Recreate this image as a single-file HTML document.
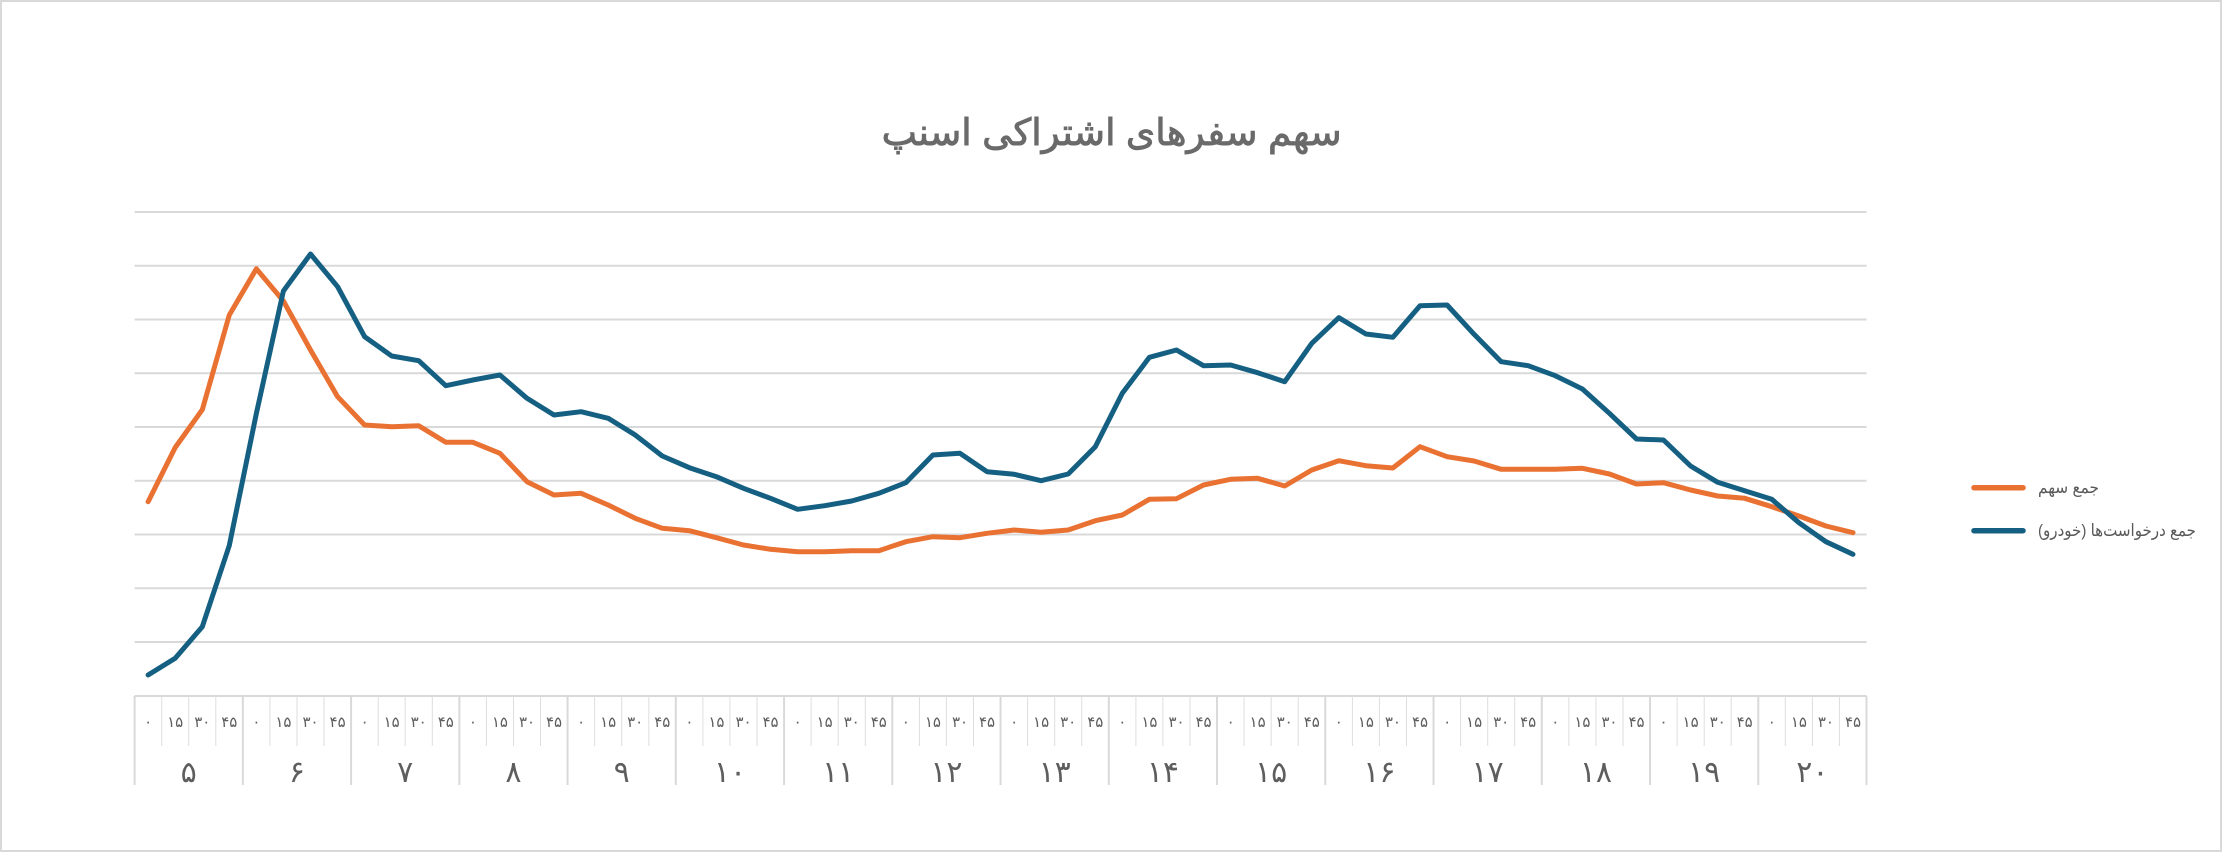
<!DOCTYPE html>
<html>
<head>
<meta charset="utf-8">
<style>
  html, body { margin: 0; padding: 0; background: #ffffff; }
  body { width: 2222px; height: 852px; overflow: hidden; }
  svg { display: block; }
  .ar { font-family: "Liberation Sans", "DejaVu Sans", sans-serif; }
</style>
</head>
<body>
<svg width="2222" height="852" viewBox="0 0 2222 852" xmlns="http://www.w3.org/2000/svg">
  <rect x="1" y="1" width="2220" height="850" fill="#ffffff" stroke="#d9d9d9" stroke-width="2"/>

  <!-- Title -->
  <text class="ar" x="1111.7" y="145" font-size="37" fill="#6a6a6a" stroke="#6a6a6a" stroke-width="0.9" text-anchor="middle" textLength="460" lengthAdjust="spacingAndGlyphs">سهم سفرهای اشتراکی اسنپ</text>

  <!-- Gridlines -->
  <g stroke="#d9d9d9" stroke-width="2">
    <line x1="134.6" y1="212" x2="1866.5" y2="212"/>
    <line x1="134.6" y1="265.75" x2="1866.5" y2="265.75"/>
    <line x1="134.6" y1="319.5" x2="1866.5" y2="319.5"/>
    <line x1="134.6" y1="373.25" x2="1866.5" y2="373.25"/>
    <line x1="134.6" y1="427" x2="1866.5" y2="427"/>
    <line x1="134.6" y1="480.75" x2="1866.5" y2="480.75"/>
    <line x1="134.6" y1="534.5" x2="1866.5" y2="534.5"/>
    <line x1="134.6" y1="588.25" x2="1866.5" y2="588.25"/>
    <line x1="134.6" y1="642" x2="1866.5" y2="642"/>
    <line x1="134.6" y1="696" x2="1866.5" y2="696"/>
  </g>

  <!-- Minor dividers -->
  <g stroke="#dedede" stroke-width="1">
    <line x1="161.7" y1="696" x2="161.7" y2="746"/><line x1="188.7" y1="696" x2="188.7" y2="746"/><line x1="215.8" y1="696" x2="215.8" y2="746"/>
    <line x1="269.9" y1="696" x2="269.9" y2="746"/><line x1="297" y1="696" x2="297" y2="746"/><line x1="324" y1="696" x2="324" y2="746"/>
    <line x1="378.2" y1="696" x2="378.2" y2="746"/><line x1="405.2" y1="696" x2="405.2" y2="746"/><line x1="432.3" y1="696" x2="432.3" y2="746"/>
    <line x1="486.4" y1="696" x2="486.4" y2="746"/><line x1="513.5" y1="696" x2="513.5" y2="746"/><line x1="540.5" y1="696" x2="540.5" y2="746"/>
    <line x1="594.6" y1="696" x2="594.6" y2="746"/><line x1="621.7" y1="696" x2="621.7" y2="746"/><line x1="648.8" y1="696" x2="648.8" y2="746"/>
    <line x1="702.9" y1="696" x2="702.9" y2="746"/><line x1="729.9" y1="696" x2="729.9" y2="746"/><line x1="757" y1="696" x2="757" y2="746"/>
    <line x1="811.1" y1="696" x2="811.1" y2="746"/><line x1="838.2" y1="696" x2="838.2" y2="746"/><line x1="865.3" y1="696" x2="865.3" y2="746"/>
    <line x1="919.4" y1="696" x2="919.4" y2="746"/><line x1="946.4" y1="696" x2="946.4" y2="746"/><line x1="973.5" y1="696" x2="973.5" y2="746"/>
    <line x1="1027.6" y1="696" x2="1027.6" y2="746"/><line x1="1054.7" y1="696" x2="1054.7" y2="746"/><line x1="1081.7" y1="696" x2="1081.7" y2="746"/>
    <line x1="1135.9" y1="696" x2="1135.9" y2="746"/><line x1="1162.9" y1="696" x2="1162.9" y2="746"/><line x1="1190" y1="696" x2="1190" y2="746"/>
    <line x1="1244.1" y1="696" x2="1244.1" y2="746"/><line x1="1271.2" y1="696" x2="1271.2" y2="746"/><line x1="1298.2" y1="696" x2="1298.2" y2="746"/>
    <line x1="1352.4" y1="696" x2="1352.4" y2="746"/><line x1="1379.4" y1="696" x2="1379.4" y2="746"/><line x1="1406.5" y1="696" x2="1406.5" y2="746"/>
    <line x1="1460.6" y1="696" x2="1460.6" y2="746"/><line x1="1487.7" y1="696" x2="1487.7" y2="746"/><line x1="1514.7" y1="696" x2="1514.7" y2="746"/>
    <line x1="1568.8" y1="696" x2="1568.8" y2="746"/><line x1="1595.9" y1="696" x2="1595.9" y2="746"/><line x1="1623" y1="696" x2="1623" y2="746"/>
    <line x1="1677.1" y1="696" x2="1677.1" y2="746"/><line x1="1704.2" y1="696" x2="1704.2" y2="746"/><line x1="1731.2" y1="696" x2="1731.2" y2="746"/>
    <line x1="1785.3" y1="696" x2="1785.3" y2="746"/><line x1="1812.4" y1="696" x2="1812.4" y2="746"/><line x1="1839.4" y1="696" x2="1839.4" y2="746"/>
  </g>

  <!-- Major dividers -->
  <g stroke="#d9d9d9" stroke-width="2">
    <line x1="134.6" y1="696" x2="134.6" y2="785"/>
    <line x1="242.85" y1="696" x2="242.85" y2="785"/>
    <line x1="351.09" y1="696" x2="351.09" y2="785"/>
    <line x1="459.34" y1="696" x2="459.34" y2="785"/>
    <line x1="567.58" y1="696" x2="567.58" y2="785"/>
    <line x1="675.83" y1="696" x2="675.83" y2="785"/>
    <line x1="784.07" y1="696" x2="784.07" y2="785"/>
    <line x1="892.32" y1="696" x2="892.32" y2="785"/>
    <line x1="1000.56" y1="696" x2="1000.56" y2="785"/>
    <line x1="1108.81" y1="696" x2="1108.81" y2="785"/>
    <line x1="1217.05" y1="696" x2="1217.05" y2="785"/>
    <line x1="1325.3" y1="696" x2="1325.3" y2="785"/>
    <line x1="1433.54" y1="696" x2="1433.54" y2="785"/>
    <line x1="1541.79" y1="696" x2="1541.79" y2="785"/>
    <line x1="1650.03" y1="696" x2="1650.03" y2="785"/>
    <line x1="1758.28" y1="696" x2="1758.28" y2="785"/>
    <line x1="1866.5" y1="696" x2="1866.5" y2="785"/>
  </g>

  <!-- Minute labels -->
  <g class="ar" font-size="15" fill="#5e5e5e" text-anchor="middle">
    <text x="148.1" y="727">۰</text><text x="175.2" y="727">۱۵</text><text x="202.3" y="727">۳۰</text><text x="229.3" y="727">۴۵</text>
    <text x="256.4" y="727">۰</text><text x="283.4" y="727">۱۵</text><text x="310.5" y="727">۳۰</text><text x="337.6" y="727">۴۵</text>
    <text x="364.6" y="727">۰</text><text x="391.7" y="727">۱۵</text><text x="418.7" y="727">۳۰</text><text x="445.8" y="727">۴۵</text>
    <text x="472.9" y="727">۰</text><text x="499.9" y="727">۱۵</text><text x="527" y="727">۳۰</text><text x="554" y="727">۴۵</text>
    <text x="581.1" y="727">۰</text><text x="608.2" y="727">۱۵</text><text x="635.2" y="727">۳۰</text><text x="662.3" y="727">۴۵</text>
    <text x="689.4" y="727">۰</text><text x="716.4" y="727">۱۵</text><text x="743.5" y="727">۳۰</text><text x="770.5" y="727">۴۵</text>
    <text x="797.6" y="727">۰</text><text x="824.7" y="727">۱۵</text><text x="851.7" y="727">۳۰</text><text x="878.8" y="727">۴۵</text>
    <text x="905.8" y="727">۰</text><text x="932.9" y="727">۱۵</text><text x="960" y="727">۳۰</text><text x="987" y="727">۴۵</text>
    <text x="1014.1" y="727">۰</text><text x="1041.1" y="727">۱۵</text><text x="1068.2" y="727">۳۰</text><text x="1095.3" y="727">۴۵</text>
    <text x="1122.3" y="727">۰</text><text x="1149.4" y="727">۱۵</text><text x="1176.5" y="727">۳۰</text><text x="1203.5" y="727">۴۵</text>
    <text x="1230.6" y="727">۰</text><text x="1257.6" y="727">۱۵</text><text x="1284.7" y="727">۳۰</text><text x="1311.8" y="727">۴۵</text>
    <text x="1338.8" y="727">۰</text><text x="1365.9" y="727">۱۵</text><text x="1392.9" y="727">۳۰</text><text x="1420" y="727">۴۵</text>
    <text x="1447.1" y="727">۰</text><text x="1474.1" y="727">۱۵</text><text x="1501.2" y="727">۳۰</text><text x="1528.2" y="727">۴۵</text>
    <text x="1555.3" y="727">۰</text><text x="1582.4" y="727">۱۵</text><text x="1609.4" y="727">۳۰</text><text x="1636.5" y="727">۴۵</text>
    <text x="1663.5" y="727">۰</text><text x="1690.6" y="727">۱۵</text><text x="1717.7" y="727">۳۰</text><text x="1744.7" y="727">۴۵</text>
    <text x="1771.8" y="727">۰</text><text x="1798.9" y="727">۱۵</text><text x="1825.9" y="727">۳۰</text><text x="1853" y="727">۴۵</text>
  </g>

  <!-- Hour labels -->
  <g class="ar" font-size="30" fill="#5e5e5e" text-anchor="middle">
    <text x="188.72" y="782">۵</text>
    <text x="296.97" y="782">۶</text>
    <text x="405.21" y="782">۷</text>
    <text x="513.46" y="782">۸</text>
    <text x="621.70" y="782">۹</text>
    <text x="729.95" y="782">۱۰</text>
    <text x="838.19" y="782">۱۱</text>
    <text x="946.44" y="782">۱۲</text>
    <text x="1054.68" y="782">۱۳</text>
    <text x="1162.93" y="782">۱۴</text>
    <text x="1271.17" y="782">۱۵</text>
    <text x="1379.42" y="782">۱۶</text>
    <text x="1487.66" y="782">۱۷</text>
    <text x="1595.91" y="782">۱۸</text>
    <text x="1704.15" y="782">۱۹</text>
    <text x="1812.40" y="782">۲۰</text>
  </g>

  <!-- Orange series -->
  <polyline fill="none" stroke="#E97132" stroke-width="5" stroke-linejoin="round" stroke-linecap="round"
    points="148.1,501.7 175.2,447.5 202.3,409.7 229.3,315 256.4,268.8 283.4,301 310.5,350 337.6,396.7 364.6,425 391.7,426.7 418.7,425.7 445.8,442.3 472.9,442.3 499.9,453.3 527,481.7 554,495 581.1,493.3 608.2,505 635.2,518.3 662.3,528.3 689.4,530.7 716.4,537.7 743.5,545 770.5,549.3 797.6,551.7 824.7,551.7 851.7,550.7 878.8,550.7 905.8,541.7 932.9,536.7 960,537.7 987,533.3 1014.1,530 1041.1,532.3 1068.2,530 1095.3,520.7 1122.3,515 1149.4,499.3 1176.5,498.7 1203.5,485 1230.6,479.3 1257.6,478.3 1284.7,486 1311.8,470 1338.8,460.7 1365.9,465.7 1392.9,468 1420,446.7 1447.1,456.7 1474.1,461 1501.2,469.3 1528.2,469.3 1555.3,469.3 1582.4,468.3 1609.4,474 1636.5,484 1663.5,482.7 1690.6,490 1717.7,496 1744.7,498.3 1771.8,506.7 1798.9,516 1825.9,526 1853,532.7"/>

  <!-- Blue series -->
  <polyline fill="none" stroke="#156082" stroke-width="5" stroke-linejoin="round" stroke-linecap="round"
    points="148.1,675 175.2,658.3 202.3,626.7 229.3,545.5 256.4,413.3 283.4,291 310.5,254 337.6,286.7 364.6,336.7 391.7,356 418.7,360.7 445.8,385.7 472.9,380 499.9,375 527,398.3 554,415 581.1,411.7 608.2,418.3 635.2,435 662.3,456 689.4,467.7 716.4,476.7 743.5,488.3 770.5,498.3 797.6,509.3 824.7,505.7 851.7,501 878.8,493.3 905.8,482.7 932.9,455 960,453.3 987,471.7 1014.1,474.3 1041.1,480.7 1068.2,474 1095.3,446.7 1122.3,393.3 1149.4,357.3 1176.5,350 1203.5,365.7 1230.6,365 1257.6,372.7 1284.7,381.7 1311.8,343.3 1338.8,317.7 1365.9,334 1392.9,337.3 1420,305.7 1447.1,305 1474.1,334.3 1501.2,361.7 1528.2,365.7 1555.3,375.7 1582.4,389 1609.4,413.3 1636.5,439 1663.5,440 1690.6,466 1717.7,482.3 1744.7,490.7 1771.8,499.3 1798.9,522.7 1825.9,541.7 1853,554.3"/>

  <!-- Legend -->
  <line x1="1974" y1="487.7" x2="2023" y2="487.7" stroke="#E97132" stroke-width="5.5" stroke-linecap="round"/>
  <line x1="1974" y1="530.7" x2="2023" y2="530.7" stroke="#156082" stroke-width="5.5" stroke-linecap="round"/>
  <text class="ar" x="2038" y="493" font-size="17" fill="#595959" textLength="61" lengthAdjust="spacingAndGlyphs">جمع سهم</text>
  <text class="ar" x="2038" y="536" font-size="17" fill="#595959" textLength="158" lengthAdjust="spacingAndGlyphs">&#x202B;جمع درخواست‌ها (خودرو)&#x202C;</text>
</svg>
</body>
</html>
